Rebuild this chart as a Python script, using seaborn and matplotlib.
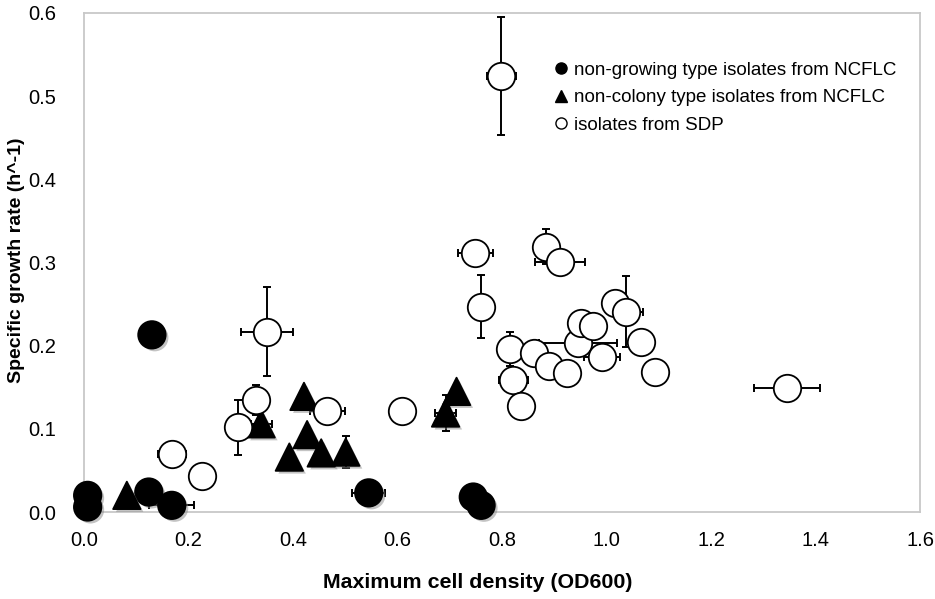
import matplotlib
matplotlib.use("Agg")
import matplotlib.pyplot as plt
import matplotlib.patheffects as pe
import seaborn as sns
import pandas as pd
import numpy as np

# ---- data ----
nongrow_x = [0.007, 0.007, 0.130, 0.124, 0.168, 0.545, 0.745, 0.760]
nongrow_y = [0.020, 0.006, 0.213, 0.024, 0.008, 0.023, 0.018, 0.008]
nongrow_xerr = [0, 0, 0, 0, 0.043, 0.032, 0, 0]
nongrow_yerr = [0, 0, 0, 0, 0, 0, 0, 0]

noncol_x = [0.082, 0.339, 0.421, 0.427, 0.393, 0.454, 0.501, 0.692, 0.713]
noncol_y = [0.020, 0.106, 0.139, 0.093, 0.066, 0.071, 0.072, 0.119, 0.145]
noncol_xerr = [0, 0.02, 0, 0, 0, 0, 0, 0.02, 0]
noncol_yerr = [0, 0, 0, 0, 0, 0, 0.019, 0.022, 0]

sdp_x = [0.168, 0.226, 0.295, 0.329, 0.350, 0.466, 0.609, 0.749, 0.760, 0.799,
         0.815, 0.822, 0.836, 0.862, 0.884, 0.889, 0.911, 0.924, 0.945, 0.952,
         0.975, 0.991, 1.016, 1.037, 1.066, 1.093, 1.346]
sdp_y = [0.070, 0.043, 0.102, 0.135, 0.217, 0.122, 0.121, 0.312, 0.247, 0.524,
         0.196, 0.159, 0.127, 0.191, 0.319, 0.175, 0.301, 0.167, 0.203, 0.227,
         0.224, 0.186, 0.251, 0.241, 0.204, 0.168, 0.149]
sdp_xerr = [0.027, 0, 0, 0, 0.050, 0.033, 0, 0.033, 0, 0.027,
            0, 0.027, 0, 0, 0, 0, 0.047, 0, 0.075, 0,
            0, 0.035, 0, 0.033, 0, 0, 0.063]
sdp_yerr = [0, 0, 0.033, 0.018, 0.054, 0, 0, 0, 0.038, 0.071,
            0.021, 0, 0, 0, 0.021, 0, 0, 0, 0, 0,
            0, 0, 0, 0.043, 0, 0, 0]

labels = ["non-growing type isolates from NCFLC",
          "non-colony type isolates from NCFLC",
          "isolates from SDP"]
xticks = [0.0, 0.2, 0.4, 0.6, 0.8, 1.0, 1.2, 1.4, 1.6]
yticks = [0.0, 0.1, 0.2, 0.3, 0.4, 0.5, 0.6]

sns.set_theme(style="white")
plt.rcParams['font.family'] = ['Liberation Sans', 'DejaVu Sans']
plt.rcParams['text.color'] = 'black'
plt.rcParams['axes.labelcolor'] = 'black'
plt.rcParams['xtick.labelcolor'] = 'black'
plt.rcParams['ytick.labelcolor'] = 'black'

fig = plt.figure(figsize=(9.35, 5.99), dpi=100)
ax = fig.add_axes([84/935, 1-512/599, (920-84)/935, (512-13)/599])

groups = [
    (nongrow_x, nongrow_y, nongrow_xerr, nongrow_yerr, 'o', 'black', labels[0], True),
    (noncol_x, noncol_y, noncol_xerr, noncol_yerr, '^', 'black', labels[1], True),
    (sdp_x, sdp_y, sdp_xerr, sdp_yerr, 'o', 'white', labels[2], False),
]

for gx, gy, gxe, gye, mk, fc, lab, shadow in groups:
    df = pd.DataFrame({'x': gx, 'y': gy, 'xe': gxe, 'ye': gye})
    ax.errorbar(df['x'], df['y'],
                xerr=np.where(df['xe'] > 0, df['xe'], np.nan),
                yerr=np.where(df['ye'] > 0, df['ye'], np.nan),
                fmt='none', ecolor='black', elinewidth=1.4, capsize=3,
                capthick=1.4, zorder=2, clip_on=False)
    sns.scatterplot(data=df, x='x', y='y', marker=mk, s=390, color=fc,
                    edgecolor='black', linewidth=1.3, ax=ax, zorder=3,
                    clip_on=False, legend=False)
    coll = ax.collections[-1]
    if shadow:
        coll.set_path_effects([pe.SimplePatchShadow(offset=(2, -2), shadow_rgbFace='#888888', alpha=0.5),
                               pe.Normal()])

# legend
from matplotlib.lines import Line2D
handles = [Line2D([], [], marker='o', ls='none', color='black', markersize=8),
           Line2D([], [], marker='^', ls='none', color='black', markersize=8),
           Line2D([], [], marker='o', ls='none', markerfacecolor='white',
                  markeredgecolor='black', markersize=8, markeredgewidth=1)]
leg = ax.legend(handles, labels, loc='upper left', bbox_to_anchor=(0.555, 0.918),
                frameon=False, fontsize=13.5, handlelength=0.6, handletextpad=0.4,
                labelspacing=0.56, borderaxespad=0)
for t in leg.get_texts():
    t.set_color('black')

ax.set_xlim(0, 1.6)
ax.set_ylim(0, 0.6)
ax.set_xticks(xticks)
ax.set_yticks(yticks)
ax.set_xticklabels([f"{v:.1f}" for v in xticks], fontsize=14.5, color='black')
ax.set_yticklabels([f"{v:.1f}" for v in yticks], fontsize=14.5, color='black')
for sp in ax.spines.values():
    sp.set_visible(True)
    sp.set_color('#C8C8C8')
    sp.set_linewidth(1.3)
ax.tick_params(axis='x', direction='out', length=4, width=1.2, color='#C8C8C8', pad=10)
ax.tick_params(axis='y', direction='out', length=6, width=1.2, color='#C8C8C8', pad=14)
ax.set_xlabel("Maximum cell density (OD600)", fontsize=15.4, fontweight='bold',
              va='center', ha='center', color='black')
ax.set_ylabel("Specific growth rate (h^-1)", fontsize=14, fontweight='bold',
              va='center', ha='center', color='black')
ax.xaxis.set_label_coords((478 - 84) / 836, (512 - 583) / 499)
ax.yaxis.set_label_coords((17 - 84) / 836, (512 - 260) / 499)

fig.savefig("out.png", dpi=100)
